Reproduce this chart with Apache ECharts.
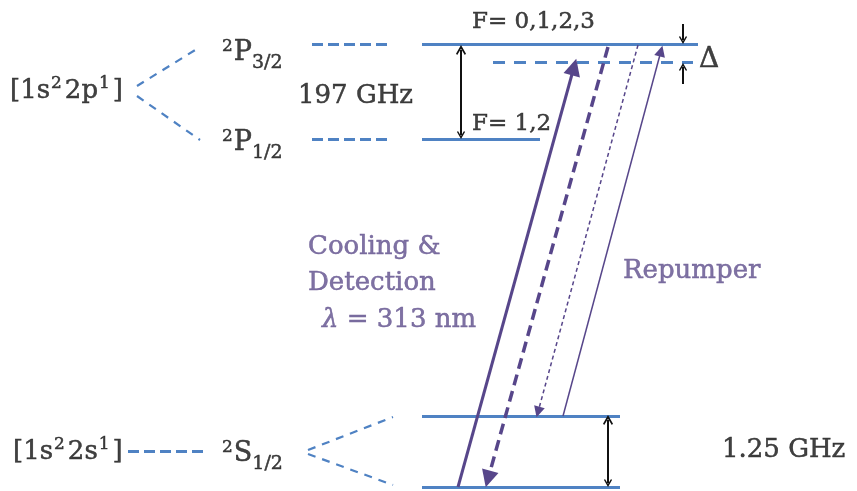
<!DOCTYPE html>
<html>
<head>
<meta charset="utf-8">
<script src="https://cdn.jsdelivr.net/npm/echarts@6/dist/echarts.min.js"></script>
<style>
  html, body { margin: 0; padding: 0; background: #ffffff; }
  #chart { width: 857px; height: 491px; }
</style>
</head>
<body>
<div id="chart"></div>
<script>
// Level scheme of the 2S1/2 -> 2P3/2 cooling transition.
// Diagram units: x grows to the right, y grows downwards (inverted axis).

// Solid hyperfine levels: [xStart, xEnd, y]
const levelSolid = [
  [422, 698, 44],   // 2P3/2, F = 0,1,2,3
  [422, 540, 139],  // 2P1/2, F = 1,2
  [422, 620, 416],  // 2S1/2, upper hyperfine level
  [422, 620, 487]   // 2S1/2, lower hyperfine level
];
// Detuned laser level below 2P3/2: [xStart, xEnd, y]
const detunedLevel = [493, 693, 62];

// Short dashed stubs from term symbols to levels: [x0, y0, x1, y1]
const termStubs = [
  [312, 44, 392, 44],
  [312, 139, 392, 139],
  [128, 451, 206, 451]
];
// Dashed fan-out lines from configurations / terms: [x0, y0, x1, y1]
const fanLines = [
  [137, 86, 200, 47],
  [137, 96, 200, 140],
  [308, 450, 393, 417],
  [308, 454, 393, 485]
];

// Laser / decay transitions: [x0, y0, x1, y1] (arrow at the second point)
const coolingUp   = [458, 487, 574, 67];
const coolingDown = [608, 47, 488, 479];
const repumpDecay = [638, 45, 538, 412];
const repumperUp  = [563, 416, 661, 51];

// Black splitting markers: [x0, y0, x1, y1]
const splitArrows = [
  [461, 50, 461, 135],   // 197 GHz fine structure
  [608, 420, 608, 483]   // 1.25 GHz hyperfine
];
const deltaArrows = [
  [683, 24, 683, 40],
  [683, 84, 683, 67]
];

// Text labels: [x, y, text, style]
const labels = [
  [10, 91, '{t|[1s}{sup|2}{t|2p}{sup|1}{t|]}', 'config'],
  [222, 53, '{sup|2}{t|P}{sub|3/2}', 'term'],
  [222, 143, '{sup|2}{t|P}{sub|1/2}', 'term'],
  [298, 96, '197 GHz', 'black'],
  [472, 22, 'F= 0,1,2,3', 'small'],
  [472, 124, 'F= 1,2', 'small'],
  [699, 60, 'Δ', 'delta'],
  [308, 247, 'Cooling &', 'purple'],
  [308, 283, 'Detection', 'purple'],
  [322, 320, '{i|λ} = 313 nm', 'purple'],
  [623, 271, 'Repumper', 'purple'],
  [13, 452, '{t|[1s}{sup|2}{t|2s}{sup|1}{t|]}', 'config'],
  [222, 454, '{sup|2}{t|S}{sub|1/2}', 'term'],
  [722, 450, '1.25 GHz', 'black']
];

const LEVEL_BLUE = '#4f82c3';
const ARROW_PURPLE = '#57468a';
const TEXT_PURPLE = '#5f4f8c';
const TEXT_BLACK = '#111111';
const FONT = '"DejaVu Serif", "Liberation Serif", serif';

const chevron = 'path://M5,0 L10,7 L8.8,8 L5,3 L1.2,8 L0,7 Z';

function seg(c) { return { coords: [[c[0], c[1]], [c[2], c[3]]] }; }

function linesSeries(data, lineStyle, symbol, symbolSize) {
  return {
    type: 'lines',
    coordinateSystem: 'cartesian2d',
    polyline: false,
    silent: true,
    animation: false,
    symbol: symbol || ['none', 'none'],
    symbolSize: symbolSize || 10,
    lineStyle: Object.assign({ opacity: 1, curveness: 0 }, lineStyle),
    data: data
  };
}

// size: main text, sup/sub: script sizes, lh: main line height, supPad: superscript padding
const textStyles = {
  config: { color: TEXT_BLACK, size: 26, sup: 17, sub: 17, lh: 32, supPad: [0, 3, 0, 1] },
  term:   { color: TEXT_BLACK, size: 27, sup: 17, sub: 19, lh: 39, supPad: [5, 1, 0, 0] },
  black:  { color: TEXT_BLACK, size: 26, sup: 17, sub: 17, lh: 32, supPad: [0, 1, 0, 1] },
  small:  { color: TEXT_BLACK, size: 23, sup: 15, sub: 15, lh: 32, supPad: [0, 1, 0, 1] },
  delta:  { color: TEXT_BLACK, size: 28, sup: 17, sub: 17, lh: 32, supPad: [0, 1, 0, 1] },
  purple: { color: TEXT_PURPLE, size: 26, sup: 17, sub: 17, lh: 32, supPad: [0, 1, 0, 1] }
};

function richFor(st) {
  const stroke = { textBorderColor: st.color, textBorderWidth: 0.5 };
  return {
    t:   Object.assign({ fontFamily: FONT, fontSize: st.size, color: st.color, lineHeight: st.lh, verticalAlign: 'middle' }, stroke),
    sup: Object.assign({ fontFamily: FONT, fontSize: st.sup, color: st.color, lineHeight: st.sup, verticalAlign: 'top', padding: st.supPad }, stroke),
    sub: Object.assign({ fontFamily: FONT, fontSize: st.sub, color: st.color, lineHeight: st.sub, verticalAlign: 'bottom' }, stroke),
    i:   Object.assign({ fontFamily: FONT, fontSize: st.size, color: st.color, fontStyle: 'italic', lineHeight: st.lh }, stroke)
  };
}

const labelData = labels.map(l => {
  const st = textStyles[l[3]];
  return {
    value: [l[0], l[1]],
    label: {
      show: true,
      position: 'inside',
      align: 'left',
      verticalAlign: 'middle',
      formatter: l[2],
      fontFamily: FONT,
      fontSize: st.size,
      color: st.color,
      textBorderColor: st.color,
      textBorderWidth: 0.5,
      lineHeight: st.lh,
      rich: richFor(st)
    }
  };
});

const chart = echarts.init(document.getElementById('chart'), null, { renderer: 'canvas' });

chart.setOption({
  backgroundColor: '#ffffff',
  animation: false,
  grid: { left: 0, right: 0, top: 0, bottom: 0 },
  xAxis: { type: 'value', min: 0, max: 857, show: false },
  yAxis: { type: 'value', min: 0, max: 491, inverse: true, show: false },
  series: [
    linesSeries(fanLines.map(seg), { color: LEVEL_BLUE, width: 2.2, type: [8, 7] }),
    linesSeries(termStubs.map(seg), { color: LEVEL_BLUE, width: 3, type: [11, 5] }),
    linesSeries(levelSolid.map(l => seg([l[0], l[2], l[1], l[2]])), { color: LEVEL_BLUE, width: 3 }),
    linesSeries([seg([detunedLevel[0], detunedLevel[2], detunedLevel[1], detunedLevel[2]])],
      { color: LEVEL_BLUE, width: 3, type: [12, 9] }),
    linesSeries([seg(coolingUp)], { color: ARROW_PURPLE, width: 3 }, ['none', 'triangle'], [10, 17]),
    linesSeries([seg(coolingDown)], { color: ARROW_PURPLE, width: 3.5, type: [11, 6] }, ['none', 'triangle'], [11, 17]),
    linesSeries([seg(repumpDecay)], { color: ARROW_PURPLE, width: 1.5, type: [4, 3] }, ['none', 'triangle'], [7, 11]),
    linesSeries([seg(repumperUp)], { color: ARROW_PURPLE, width: 1.5 }, ['none', 'triangle'], [7, 11]),
    linesSeries(splitArrows.map(seg), { color: TEXT_BLACK, width: 2 }, [chevron, chevron], [10, 8]),
    linesSeries(deltaArrows.map(seg), { color: TEXT_BLACK, width: 2 }, ['none', chevron], [10, 8]),
    {
      type: 'scatter',
      silent: true,
      animation: false,
      symbol: 'circle',
      symbolSize: 1,
      itemStyle: { color: 'rgba(255,255,255,0)' },
      data: labelData,
      z: 10
    }
  ]
});
</script>
</body>
</html>
